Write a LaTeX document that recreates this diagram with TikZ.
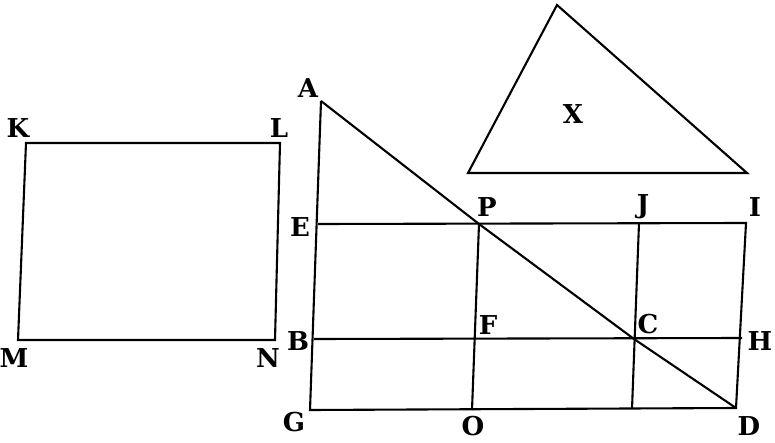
\documentclass[tikz,border=0pt]{standalone}
\usepackage{fontspec}
\setmainfont{DejaVu Serif}
\begin{document}
\begin{tikzpicture}[x=1pt,y=-1pt,line width=2.1pt,line join=miter,
  lbl/.style={font=\fontsize{26}{26}\selectfont\bfseries,inner sep=0pt}]
\useasboundingbox (0,0) rectangle (775,443);
% square
\coordinate (K) at (26,143);
\coordinate (L) at (280,143);
\coordinate (M) at (18,340);
\coordinate (N) at (275,340);
\draw (K) -- (L) -- (N) -- (M) -- cycle;
% triangle X
\coordinate (T1) at (557,5);
\coordinate (T2) at (468,173);
\coordinate (T3) at (747,173);
\draw (T1) -- (T2) -- (T3) -- cycle;
% main figure
\coordinate (A) at (321,101);
\coordinate (E) at (318,224);
\coordinate (B) at (314,339);
\coordinate (G) at (310,410);
\coordinate (P) at (479,224);
\coordinate (F) at (474,339);
\coordinate (O) at (472,410);
\coordinate (J) at (639,223);
\coordinate (C) at (634,339);
\coordinate (Q) at (632,409);
\coordinate (I) at (746,223);
\coordinate (H) at (742,338);
\coordinate (D) at (736,408);
\draw (A) -- (G) -- (D) -- (I) -- (E);
\draw (B) -- (H);
\draw (P) -- (O);
\draw (J) -- (Q);
\draw (A) -- (P) -- (C) -- (D);
% labels
\node[lbl] (lK) at (18,128) {K};
\node[lbl] (lL) at (279,128) {L};
\node[lbl] (lM) at (14,358) {M};
\node[lbl] (lN) at (268,358) {N};
\node[lbl] (lX) at (573,114) {X};
\node[lbl] (lA) at (308,88) {A};
\node[lbl] (lE) at (300,227) {E};
\node[lbl] (lP) at (487,207) {P};
\node[lbl] (lJ) at (643,207) {J};
\node[lbl] (lI) at (755,207) {I};
\node[lbl] (lB) at (298,341) {B};
\node[lbl] (lF) at (488,325) {F};
\node[lbl] (lC) at (648,324) {C};
\node[lbl] (lH) at (760,341) {H};
\node[lbl] (lG) at (294,422) {G};
\node[lbl] (lO) at (473,426) {O};
\node[lbl] (lD) at (749,426) {D};
\end{tikzpicture}
\end{document}
